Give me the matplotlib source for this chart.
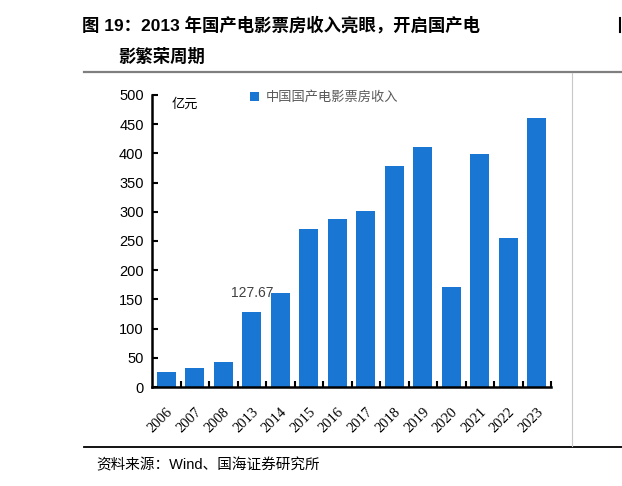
import matplotlib
matplotlib.use('Agg')
import matplotlib.pyplot as plt
import numpy as np

# data (亿元)
years = ['2006', '2007', '2008', '2013', '2014', '2015', '2016', '2017',
         '2018', '2019', '2020', '2021', '2022', '2023']
box_office = [26.2, 33.3, 43.4, 127.67, 161.5, 271.4, 287.5, 301.0,
              379.0, 411.8, 170.9, 399.3, 255.1, 460.1]
series_name = '中国国产电影票房收入'
unit = '亿元'
title1 = '图 19：2013 年国产电影票房收入亮眼，开启国产电'
title2 = '影繁荣周期'
source = '资料来源：Wind、国海证券研究所'

cjk = ['Noto Sans CJK SC', 'DejaVu Sans']
plt.rcParams['font.family'] = cjk

W, H = 622, 486
fig = plt.figure(figsize=(W / 100, H / 100), dpi=100)

# page decoration: title, rules, source
fig.text(82 / W, 1 - 25 / H, title1, fontsize=12.5, fontweight='bold',
         va='center', ha='left', family=['Liberation Sans', 'Noto Sans CJK SC'])
fig.text(118 / W, 1 - 57 / H, title2, fontsize=12.5, fontweight='bold',
         va='center', ha='left', family=cjk)
# edge of the neighbouring column, top right
fig.add_artist(plt.Line2D([620 / W] * 2, [1 - 18 / H, 1 - 32 / H], color='black', lw=1.5))
fig.add_artist(plt.Line2D([84 / W, 1], [1 - 72 / H] * 2, color='#7f7f7f', lw=1.6))
fig.add_artist(plt.Line2D([84 / W, 1], [1 - 447 / H] * 2, color='black', lw=1.3))
fig.add_artist(plt.Line2D([572 / W] * 2, [1 - 73 / H, 1 - 446 / H], color='#c8c8c8', lw=0.8))
fig.text(96 / W, 1 - 465 / H, source, fontsize=10.5, va='center', ha='left',
         family=['Liberation Sans', 'Noto Sans CJK SC'])

ax = fig.add_axes([152 / W, 1 - 387 / H, (551 - 152) / W, (387 - 95) / H])
x = np.arange(len(years))
ax.bar(x, box_office, width=0.65, color='#1976D2', label=series_name)

ax.set_xlim(-0.5, len(years) - 0.5)
ax.set_ylim(0, 500)
ax.set_yticks(range(0, 501, 50))
ax.tick_params(axis='y', direction='in', length=4, width=1.5, labelsize=10.5, pad=6)
for lab in ax.get_yticklabels():
    lab.set_family('Liberation Sans')

ax.set_xticks(x)
ax.set_xticklabels(years, rotation=45, ha='right', rotation_mode='anchor',
                   family='Liberation Serif', fontsize=10.5)
ax.tick_params(axis='x', which='major', length=0, pad=13)
ax.set_xticks(np.arange(0.5, len(years)), minor=True)
ax.tick_params(axis='x', which='minor', direction='in', length=4, width=1.5)

for s in ['top', 'right']:
    ax.spines[s].set_visible(False)
for s in ['left', 'bottom']:
    ax.spines[s].set_linewidth(1.8)

# highlight label on 2013
i13 = years.index('2013')
ax.text(x[i13], box_office[i13] + 22, '127.67', ha='center', va='bottom',
        fontsize=10, color='#404040', family='Liberation Sans')

ax.text(0.05, 0.99, unit, transform=ax.transAxes, fontsize=9.5, va='top', ha='left')
ax.legend(loc='upper left', bbox_to_anchor=(0.215, 1.055), frameon=False,
          fontsize=9.5, handlelength=0.7, handleheight=0.7, handletextpad=0.5,
          labelcolor='#595959')

fig.savefig('out.png', dpi=100)
